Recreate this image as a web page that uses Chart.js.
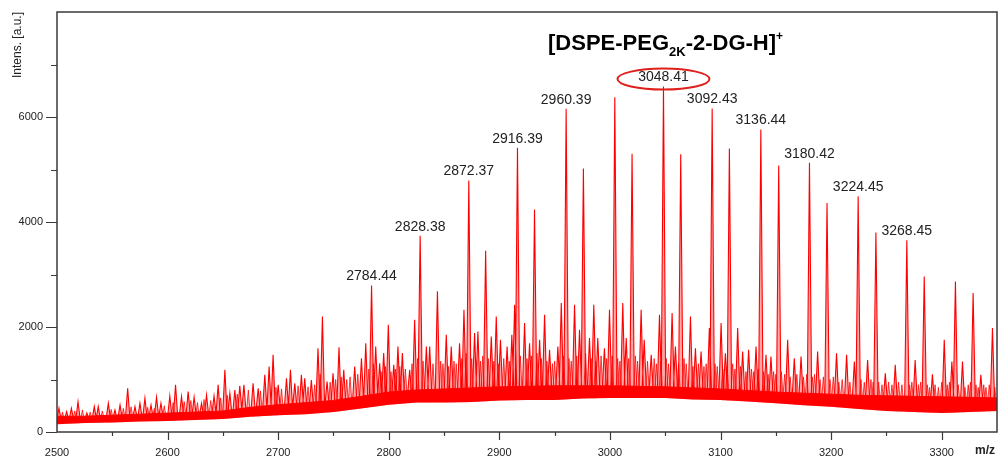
<!DOCTYPE html>
<html lang="en">
<head>
<meta charset="UTF-8">
<title>MALDI-TOF DSPE-PEG2K-2-DG</title>
<script src="https://cdn.jsdelivr.net/npm/chart.js"></script>
<style>
  body { margin: 0; background: #fff; }
  .grafico { position: relative; width: 1005px; height: 459px; }
</style>
</head>
<body>

<div class="grafico">
  <canvas id="canvas_espectro"></canvas>
</div>

<script>
// axis ranges
var eixoMz = [2500, 3350];
var eixoInt = [0, 8000];

// noise floor every 25 m/z (lower / upper edge of the dense band)
var faixaMz = [2500, 2525, 2550, 2575, 2600, 2625, 2650, 2675, 2700, 2725, 2750, 2775,
               2800, 2825, 2850, 2875, 2900, 2925, 2950, 2975, 3000, 3025, 3050, 3075,
               3100, 3125, 3150, 3175, 3200, 3225, 3250, 3275, 3300, 3325, 3350];
var faixaBaixo = [150, 170, 180, 200, 210, 230, 250, 290, 320, 340, 380, 450,
                  520, 560, 560, 570, 600, 610, 610, 640, 650, 650, 650, 620,
                  610, 580, 550, 510, 480, 440, 400, 380, 360, 380, 400];
var faixaAlto = [300, 300, 320, 340, 360, 380, 400, 470, 520, 560, 600, 680,
                 760, 800, 820, 840, 860, 870, 880, 880, 880, 870, 860, 840,
                 820, 790, 760, 740, 720, 700, 690, 680, 670, 660, 650];

// peaks: m/z and intensity
var picoMz = [
  2501.8, 2508.7, 2513.0, 2519.0, 2527.0, 2533.7, 2537.3, 2546.4, 2552.4, 2557.0,
  2563.9, 2570.5, 2575.0, 2579.5, 2585.0, 2590.0, 2594.0, 2602.0, 2607.2, 2612.6,
  2618.6, 2624.0, 2630.7, 2635.2, 2642.0, 2645.7, 2651.8, 2656.3, 2660.8, 2665.3,
  2669.0, 2677.3, 2681.9, 2687.9, 2691.8, 2695.4, 2700.0, 2707.5, 2711.1, 2715.0,
  2721.0, 2724.0, 2730.0, 2736.0, 2740.0, 2744.2, 2749.6, 2755.0, 2759.3, 2769.2,
  2775.3, 2779.2, 2784.44, 2788.2, 2791.8, 2795.4, 2799.6, 2804.5, 2808.3, 2812.3,
  2818.9, 2823.4, 2828.38, 2834.0, 2837.0, 2844.0, 2852.0, 2856.5, 2864.0, 2868.0,
  2872.37, 2877.6, 2880.6, 2887.6, 2892.7, 2897.2, 2901.0, 2907.0, 2911.3, 2913.8,
  2916.39, 2922.8, 2927.3, 2931.8, 2936.4, 2940.9, 2945.4, 2952.9, 2956.0, 2960.39,
  2968.0, 2972.5, 2976.0, 2981.5, 2985.4, 2989.0, 2995.0, 2999.6, 3004.4, 3011.6,
  3014.7, 3020.0, 3028.2, 3031.0, 3037.3, 3044.8, 3048.41, 3056.2, 3059.2, 3064.0,
  3072.8, 3077.3, 3082.4, 3089.9, 3092.43, 3100.5, 3104.4, 3108.0, 3115.5, 3120.0,
  3125.4, 3132.1, 3136.44, 3141.1, 3145.6, 3152.6, 3160.7, 3166.7, 3172.8, 3180.42,
  3187.8, 3196.3, 3204.9, 3214.0, 3221.0, 3224.45, 3233.0, 3240.5, 3249.0, 3258.0,
  3268.45, 3276.0, 3284.2, 3291.6, 3302.3, 3309.2, 3312.4, 3318.8, 3328.4, 3335.4,
  3345.9
];
var picoInt = [
  452, 387, 452, 578, 362, 483, 483, 547, 420, 515,
  834, 483, 547, 643, 515, 662, 547, 687, 897, 675,
  769, 662, 547, 706, 687, 897, 1183, 738, 801, 878,
  897, 929, 834, 1088, 1246, 1469, 897, 1024, 1183, 929,
  1088, 1024, 992, 1597, 2200, 960, 1120, 1616, 1183, 1246,
  1406, 1692, 2790, 1628, 1310, 1502, 2042, 1278, 1628, 1502,
  1183, 2137, 3740, 1628, 1628, 2680, 1851, 1628, 1692, 2328,
  4790, 1883, 1915, 3450, 1820, 2200, 1755, 1628, 1851, 2423,
  5414, 2074, 1692, 4237, 1755, 2232, 1565, 1628, 2455, 6158,
  2423, 1946, 5019, 1788, 2423, 1788, 1596, 2330, 6374, 2455,
  1788, 5300, 2328, 1755, 1470, 2232, 6580, 2265, 1628, 5290,
  2200, 1596, 1533, 1979, 6164, 2074, 1501, 5400, 1979, 1533,
  1565, 1628, 5763, 1469, 1437, 5076, 1755, 1406, 1437, 5128,
  1532, 4363, 1500, 1469, 1342, 4490, 1373, 3800, 1120, 1279,
  3650, 1373, 2963, 1100, 1755, 1342, 2868, 1342, 2646, 1088,
  1979
];

// small peaks of the grass above the noise band
var ruidoMz = [
  2505, 2516, 2523, 2530, 2541, 2549, 2560, 2567, 2582, 2588, 2597,
  2605, 2615, 2621, 2627, 2633, 2639, 2648, 2654, 2663, 2673, 2684, 2698,
  2703, 2718, 2727, 2733, 2738, 2747, 2752, 2757, 2762, 2765, 2772, 2782,
  2786, 2793, 2797, 2802, 2806, 2810, 2815, 2821, 2826, 2831, 2840, 2847,
  2849, 2854, 2859, 2861, 2866, 2870, 2875, 2883, 2885, 2890, 2895, 2899,
  2904, 2909, 2919, 2925, 2929, 2934, 2938, 2943, 2948, 2950, 2958,
  2963, 2965, 2970, 2978, 2983, 2987, 2992, 2997, 3002, 3007,
  3009, 3017, 3023, 3025, 3034, 3040, 3042, 3046, 3051, 3053,
  3062, 3067, 3069, 3075, 3080, 3085, 3087, 3095, 3097, 3102, 3106,
  3111, 3113, 3118, 3123, 3128, 3130, 3134, 3139, 3143, 3148, 3150, 3155,
  3158, 3163, 3169, 3175, 3178, 3183, 3185, 3190, 3193, 3199, 3202, 3207,
  3210, 3217, 3227, 3230, 3236, 3238, 3243, 3246, 3252, 3255, 3261, 3264,
  3271, 3273, 3279, 3281, 3287, 3289, 3294, 3297, 3300, 3305, 3307, 3315,
  3321, 3324, 3326, 3331, 3333, 3338, 3340, 3343, 3348
];
var ruidoInt = [
  380, 400, 420, 380, 400, 430, 450, 480, 470, 450, 500,
  560, 580, 600, 560, 620, 600, 650, 700, 720, 800, 780, 850,
  820, 880, 860, 900, 1100, 950, 1000, 1050, 1000, 1050, 1100, 1200,
  1300, 1150, 1250, 1150, 1200, 1250, 1200, 1300, 1400, 1350, 1300, 1350,
  1300, 1250, 1350, 1300, 1400, 1500, 1400, 1350, 1450, 1400, 1350, 1300,
  1400, 1350, 1450, 1400, 1450, 1500, 1400, 1350, 1300, 1350, 1450,
  1400, 1350, 1450, 1500, 1400, 1350, 1450, 1400, 1450, 1400,
  1350, 1400, 1450, 1350, 1350, 1400, 1300, 1350, 1400, 1300,
  1300, 1400, 1300, 1250, 1300, 1250, 1300, 1300, 1250, 1200, 1250,
  1300, 1200, 1250, 1150, 1200, 1150, 1200, 1150, 1100, 1150, 1100, 1150,
  1100, 1050, 1100, 1050, 1100, 1050, 1100, 1000, 1050, 1000, 1050, 950,
  1000, 950, 1000, 950, 1000, 950, 950, 900, 950, 900, 950, 900,
  900, 950, 900, 950, 900, 850, 900, 850, 950, 900, 950, 900,
  850, 900, 950, 900, 850, 900, 850, 900, 850
];

// labelled peaks (m/z printed above the peak)
var rotuloMz = [2784.44, 2828.38, 2872.37, 2916.39, 2960.39, 3048.41,
                3092.43, 3136.44, 3180.42, 3224.45, 3268.45];
var ionDestaque = 3048.41;

var vermelho = '#ff0000';
var fonte = '"Liberation Sans", Arial, sans-serif';

function pontosFaixa(valores) {
  var pts = [];
  for (var i = 0; i < faixaMz.length; i++) {
    pts.push({x: faixaMz[i], y: valores[i]});
  }
  return pts;
}

// each peak is a narrow spike standing on the noise band
function pontosPicos(lista, alturas, meia) {
  var pts = [];
  for (var i = 0; i < lista.length; i++) {
    var k = Math.round((lista[i] - faixaMz[0]) / 25);
    var pe = (faixaBaixo[k] + faixaAlto[k]) / 2;
    pts.push({x: lista[i] - meia, y: pe});
    pts.push({x: lista[i], y: alturas[i]});
    pts.push({x: lista[i] + meia, y: pe});
    pts.push({x: lista[i] + meia + 0.1, y: null});
  }
  return pts;
}

// box, tick marks, titles and peak labels
var desenho = {
  id: 'desenho',
  afterDraw: function (chart) {
    var ctx = chart.ctx;
    var area = chart.chartArea;
    var sx = chart.scales.x;
    var sy = chart.scales.y;

    ctx.save();
    ctx.strokeStyle = '#3a3a3a';
    ctx.lineWidth = 1.5;
    ctx.strokeRect(area.left, area.top, area.right - area.left, area.bottom - area.top);

    ctx.lineWidth = 1.2;
    ctx.beginPath();
    sy.ticks.forEach(function (t) {
      if (t.value >= eixoInt[1]) return;
      var y = Math.round(sy.getPixelForValue(t.value)) + 0.5;
      var len = (t.value % 2000 === 0) ? 11 : 6;
      ctx.moveTo(area.left - len, y);
      ctx.lineTo(area.left, y);
    });
    sx.ticks.forEach(function (t) {
      if (t.value <= eixoMz[0] || t.value >= eixoMz[1]) return;
      var x = Math.round(sx.getPixelForValue(t.value)) + 0.5;
      var len = (t.value % 100 === 0) ? 8 : 4;
      ctx.moveTo(x, area.bottom);
      ctx.lineTo(x, area.bottom + len);
    });
    ctx.stroke();

    // m/z label at the end of the x axis
    ctx.fillStyle = '#222';
    ctx.font = 'bold 12px ' + fonte;
    ctx.textAlign = 'center';
    ctx.textBaseline = 'middle';
    ctx.fillText('m/z', 985, 451);

    // peak labels
    ctx.font = '14px ' + fonte;
    ctx.textBaseline = 'middle';
    rotuloMz.forEach(function (mz) {
      var i = picoMz.indexOf(mz);
      var x = sx.getPixelForValue(mz);
      var y = sy.getPixelForValue(picoInt[i]) - 9;
      ctx.fillText(mz.toFixed(2), x, y);
      if (mz === ionDestaque) {
        ctx.strokeStyle = '#e0201c';
        ctx.lineWidth = 2;
        ctx.beginPath();
        ctx.ellipse(x, y + 1.5, 46, 10.5, 0, 0, Math.PI * 2);
        ctx.stroke();
      }
    });

    // ion title with subscript and superscript
    var tx = 548, tb = 50;
    ctx.fillStyle = '#000';
    ctx.textAlign = 'left';
    ctx.textBaseline = 'alphabetic';
    ctx.font = 'bold 22px ' + fonte;
    ctx.fillText('[DSPE-PEG', tx, tb);
    tx += ctx.measureText('[DSPE-PEG').width;
    ctx.font = 'bold 13px ' + fonte;
    ctx.fillText('2K', tx, tb + 6);
    tx += ctx.measureText('2K').width;
    ctx.font = 'bold 22px ' + fonte;
    ctx.fillText('-2-DG-H]', tx, tb);
    tx += ctx.measureText('-2-DG-H]').width;
    ctx.font = 'bold 12px ' + fonte;
    ctx.fillText('+', tx, tb - 10);
    ctx.restore();
  }
};

var espectro = document.getElementById('canvas_espectro');

new Chart(espectro, {
  type: 'line',
  data: {
    datasets: [
      {
        data: pontosPicos(picoMz, picoInt, 2),
        borderColor: vermelho,
        borderWidth: 1.1,
        backgroundColor: 'rgba(255,0,0,0.35)',
        pointRadius: 0,
        spanGaps: false,
        tension: 0,
        fill: 2
      },
      {
        data: pontosPicos(ruidoMz, ruidoInt, 1.6),
        borderColor: 'rgba(255,0,0,0.75)',
        borderWidth: 1,
        backgroundColor: 'rgba(255,0,0,0.3)',
        pointRadius: 0,
        spanGaps: false,
        tension: 0,
        fill: 2
      },
      {
        data: pontosFaixa(faixaBaixo),
        borderColor: 'rgba(0,0,0,0)',
        borderWidth: 1,
        pointRadius: 0,
        tension: 0,
        fill: false
      },
      {
        data: pontosFaixa(faixaAlto),
        borderColor: vermelho,
        borderWidth: 1,
        backgroundColor: vermelho,
        pointRadius: 0,
        tension: 0,
        fill: 2
      }
    ]
  },
  options: {
    responsive: true,
    maintainAspectRatio: false,
    animation: false,
    events: [],
    layout: { padding: { top: 12, right: 8, left: 0, bottom: 0 } },
    plugins: {
      legend: { display: false },
      tooltip: { enabled: false }
    },
    scales: {
      x: {
        type: 'linear',
        min: eixoMz[0],
        max: eixoMz[1],
        grid: { display: false, drawTicks: false },
        border: { display: false },
        ticks: {
          stepSize: 50,
          padding: 14,
          maxRotation: 0,
          autoSkip: false,
          color: '#222',
          font: { family: fonte, size: 11 },
          callback: function (v) { return (v % 100 === 0) ? String(v) : ''; }
        },
        afterFit: function (s) { s.height = 27; s.paddingLeft = 0; s.paddingRight = 0; }
      },
      y: {
        min: eixoInt[0],
        max: eixoInt[1],
        grid: { display: false, drawTicks: false },
        border: { display: false },
        ticks: {
          stepSize: 1000,
          padding: 14,
          color: '#222',
          font: { family: fonte, size: 11 },
          callback: function (v) {
            return (v % 2000 === 0 && v < eixoInt[1]) ? String(v) : '';
          }
        },
        title: {
          display: true,
          text: 'Intens. [a.u.]',
          align: 'end',
          color: '#222',
          font: { family: fonte, size: 12 },
          padding: { top: 10, bottom: 0 }
        },
        afterFit: function (s) { s.width = 57; s.paddingTop = 0; s.paddingBottom = 0; }
      }
    }
  },
  plugins: [desenho]
});
</script>
</body>
</html>
